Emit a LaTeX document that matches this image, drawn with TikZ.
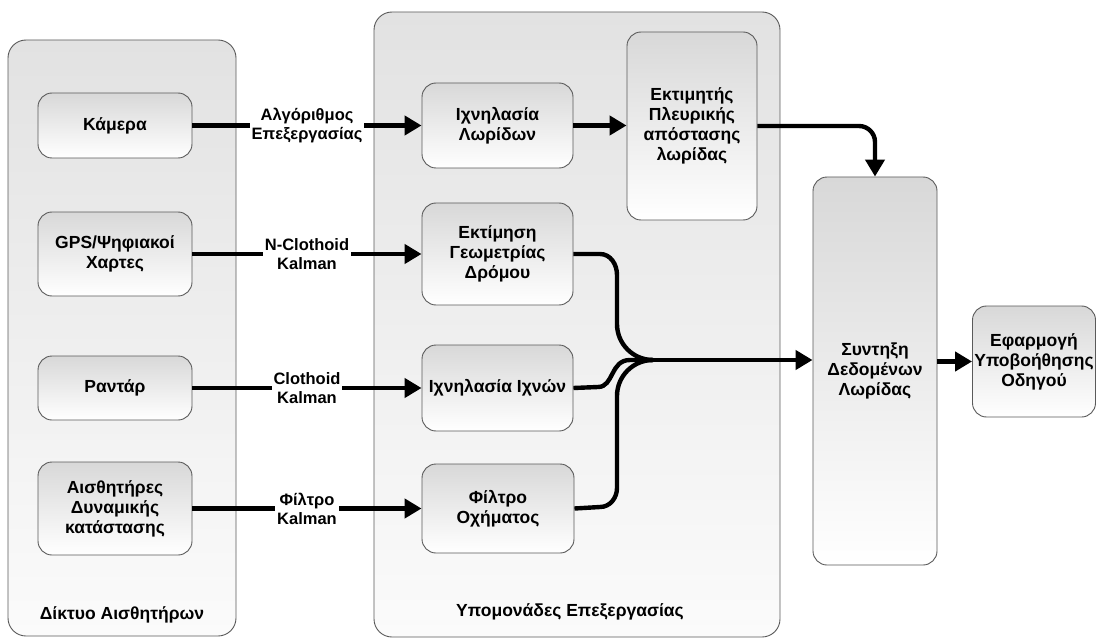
\documentclass[tikz,border=0pt]{standalone}
\usepackage{fontspec}
\setmainfont{Liberation Sans}
\usetikzlibrary{arrows.meta,calc}
\definecolor{edgegray}{HTML}{5A5A5A}
\definecolor{grouptop}{HTML}{E2E2E2}
\definecolor{groupbot}{HTML}{FBFBFB}
\definecolor{boxtop}{HTML}{D8D8D8}
\tikzset{
  group/.style={draw=edgegray, line width=0.9pt, rounded corners=18pt,
    top color=grouptop, bottom color=groupbot},
  block/.style={draw=edgegray, line width=0.9pt, rounded corners=14pt,
    top color=boxtop, bottom color=white, align=center,
    font=\fontsize{17.5}{20}\selectfont\bfseries, inner sep=0pt},
  grouplabel/.style={font=\fontsize{17.5}{20}\selectfont\bfseries},
  flow/.style={line width=4.4pt, -{Triangle[length=17pt,width=19pt]}},
  wire/.style={line width=4.4pt},
  method/.style={fill=white, inner sep=2pt, align=center,
    font=\fontsize{16.5}{19}\selectfont\bfseries}
}
\begin{document}
\begin{tikzpicture}[x=1pt,y=-1pt]
\useasboundingbox (0,0) rectangle (1097,639);
\fill[white] (0,0) rectangle (1097,639);

% group panels
\node[group, minimum width=228, minimum height=596] (sensors) at (122,338) {};
\node[group, minimum width=406, minimum height=625] (proc) at (577,324.5) {};
\node[grouplabel] (sensorsLbl) at (122,615) {Δίκτυο Αισθητήρων};
\node[grouplabel] (procLbl) at (570,612) {Υπομονάδες Επεξεργασίας};

% sensors
\node[block, minimum width=154, minimum height=65] (cam) at (115,125.5) {Κάμερα};
\node[block, minimum width=154, minimum height=84] (gps) at (115,254) {GPS/Ψηφιακοί\\Χαρτες};
\node[block, minimum width=154, minimum height=64] (radar) at (115,388) {Ραντάρ};
\node[block, minimum width=154, minimum height=93] (dyn) at (115,508.5) {Αισθητήρες\\Δυναμικής\\κατάστασης};

% processing sub-modules
\node[block, minimum width=151, minimum height=85] (lane) at (497.5,125.5) {Ιχνηλασία\\Λωρίδων};
\node[block, minimum width=130, minimum height=188] (lat) at (692,126) {Εκτιμητής\\Πλευρικής\\απόστασης\\λωρίδας};
\node[block, minimum width=151, minimum height=102] (geo) at (497.5,254) {Εκτίμηση\\Γεωμετρίας\\Δρόμου};
\node[block, minimum width=151, minimum height=86] (trk) at (497.5,388) {Ιχνηλασία Ιχνών};
\node[block, minimum width=152, minimum height=89] (veh) at (498,508.5) {Φίλτρο\\Οχήματος};

% fusion and application
\node[block, minimum width=124, minimum height=388] (fus) at (875,371) {Συντηξη\\Δεδομένων\\Λωρίδας};
\node[block, minimum width=123, minimum height=111] (app) at (1034,361.5) {Εφαρμογή\\Υποβοήθησης\\Οδηγού};

% sensor to module links
\draw[flow] (cam.east) -- node[method] (m1) {Αλγόριθμος\\Επεξεργασίας} (lane.west);
\draw[flow] (gps.east) -- node[method] (m2) {N-Clothoid\\Kalman} (geo.west);
\draw[flow] (radar.east) -- node[method] (m3) {Clothoid\\Kalman} (trk.west);
\draw[flow] (dyn.east) -- node[method] (m4) {Φίλτρο\\Kalman} (veh.west);

% lane chain
\draw[flow] (lane.east) -- (lat.west |- lane.east);
\draw[flow, rounded corners=16pt] (lat.east) -| (fus.north);

% merging bundle
\coordinate (merge) at (653,360);
\draw[wire] (geo.east) -- (600,254) to[out=0,in=90] (617,275) -- (617,324)
  to[out=-90,in=180] (merge);
\draw[wire] (veh.east) -- (600,507) to[out=0,in=-90] (617,488) -- (617,396)
  to[out=90,in=180] (merge);
\draw[wire] (trk.east) -- (598,387) .. controls (614,387) and (610,360) .. (630,360) -- (merge);
\draw[flow] (merge) -- (fus.west |- merge);

% output
\draw[flow] (fus.east |- app.west) -- (app.west);
\end{tikzpicture}
\end{document}
